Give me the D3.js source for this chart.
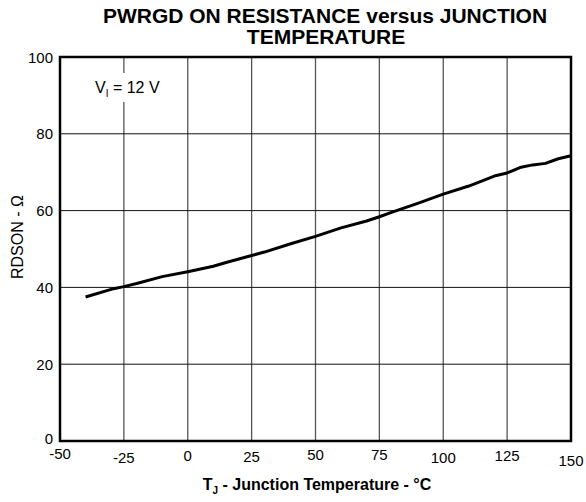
<!DOCTYPE html>
<html><head><meta charset="utf-8">
<script src="https://cdn.jsdelivr.net/npm/d3@7/dist/d3.min.js"></script>
<style>body{margin:0;background:#fff}svg{display:block}text{font-family:"Liberation Sans",Arial,sans-serif}</style>
</head><body><svg id="c" width="586" height="502"></svg>
<script>
const temps = [-40,-30,-25,-20,-10,0,10,15,20,25,30,40,50,60,70,75,80,90,100,110,120,125,130,135,140,145,150];
const rdson = [37.5,39.5,40.2,41,42.8,44.1,45.5,46.5,47.4,48.3,49.2,51.3,53.3,55.5,57.3,58.4,59.6,61.9,64.3,66.4,69,69.8,71.2,71.9,72.3,73.5,74.3];
const xTicks = [-50,-25,0,25,50,75,100,125,150];
const yTicks = [0,20,40,60,80,100];

const svg = d3.select("#c");
const L=60, R=571, T=57, B=441;
const x = d3.scaleLinear().domain([-50,150]).range([L,R]);
const y = d3.scaleLinear().domain([0,100]).range([B,T]);

// title
const title = svg.append("text").attr("text-anchor","middle").attr("font-weight","bold").attr("font-size",21);
title.append("tspan").attr("x",325).attr("y",23).text("PWRGD ON RESISTANCE versus JUNCTION");
title.append("tspan").attr("x",326).attr("y",44).text("TEMPERATURE");

// grid
svg.append("g").selectAll("line").data(xTicks.slice(1,-1)).join("line")
  .attr("x1",d=>x(d)).attr("x2",d=>x(d)).attr("y1",T).attr("y2",B)
  .attr("stroke","#555").attr("stroke-width",1.3);
svg.append("g").selectAll("line").data(yTicks.slice(1,-1)).join("line")
  .attr("x1",L).attr("x2",R).attr("y1",d=>y(d)).attr("y2",d=>y(d))
  .attr("stroke","#111").attr("stroke-width",1);

// annotation background
svg.append("rect").attr("x",90).attr("y",73).attr("width",74).attr("height",29).attr("fill","#fff");
const ann = svg.append("text").attr("x",95).attr("y",93).attr("font-size",16);
ann.append("tspan").text("V");
ann.append("tspan").attr("font-size",10).attr("dy",4).text("I");
ann.append("tspan").attr("dy",-4).text(" = 12 V");

// line
svg.append("path").datum(temps.map((t,i)=>[t,rdson[i]]))
  .attr("d", d3.line().x(d=>x(d[0])).y(d=>y(d[1])))
  .attr("fill","none").attr("stroke","#000").attr("stroke-width",3).attr("stroke-linejoin","round");

// border
svg.append("rect").attr("x",L).attr("y",T).attr("width",R-L).attr("height",B-T)
  .attr("fill","none").attr("stroke","#000").attr("stroke-width",2.5);

// axis labels
const xLabelY = [459,463,461,462,460,460,463,461,466];
svg.append("g").selectAll("text").data(xTicks).join("text")
  .attr("x",d=>x(d)).attr("y",(d,i)=>xLabelY[i])
  .attr("text-anchor","middle").attr("font-size",15).text(d=>d);
svg.append("g").selectAll("text").data(yTicks).join("text")
  .attr("x",53).attr("y",d=>y(d)+(d===0?2.5:5.5)).attr("text-anchor","end").attr("font-size",15).text(d=>d);

// axis titles
const xt = svg.append("text").attr("x",317).attr("y",490).attr("text-anchor","middle").attr("font-weight","bold").attr("font-size",16);
xt.append("tspan").text("T");
xt.append("tspan").attr("font-size",10).attr("dy",4).text("J");
xt.append("tspan").attr("dy",-4).text(" - Junction Temperature - °C");

svg.append("text").attr("transform","translate(23,237) rotate(-90)").attr("text-anchor","middle")
  .attr("font-size",16).text("RDSON - Ω");
</script></body></html>
